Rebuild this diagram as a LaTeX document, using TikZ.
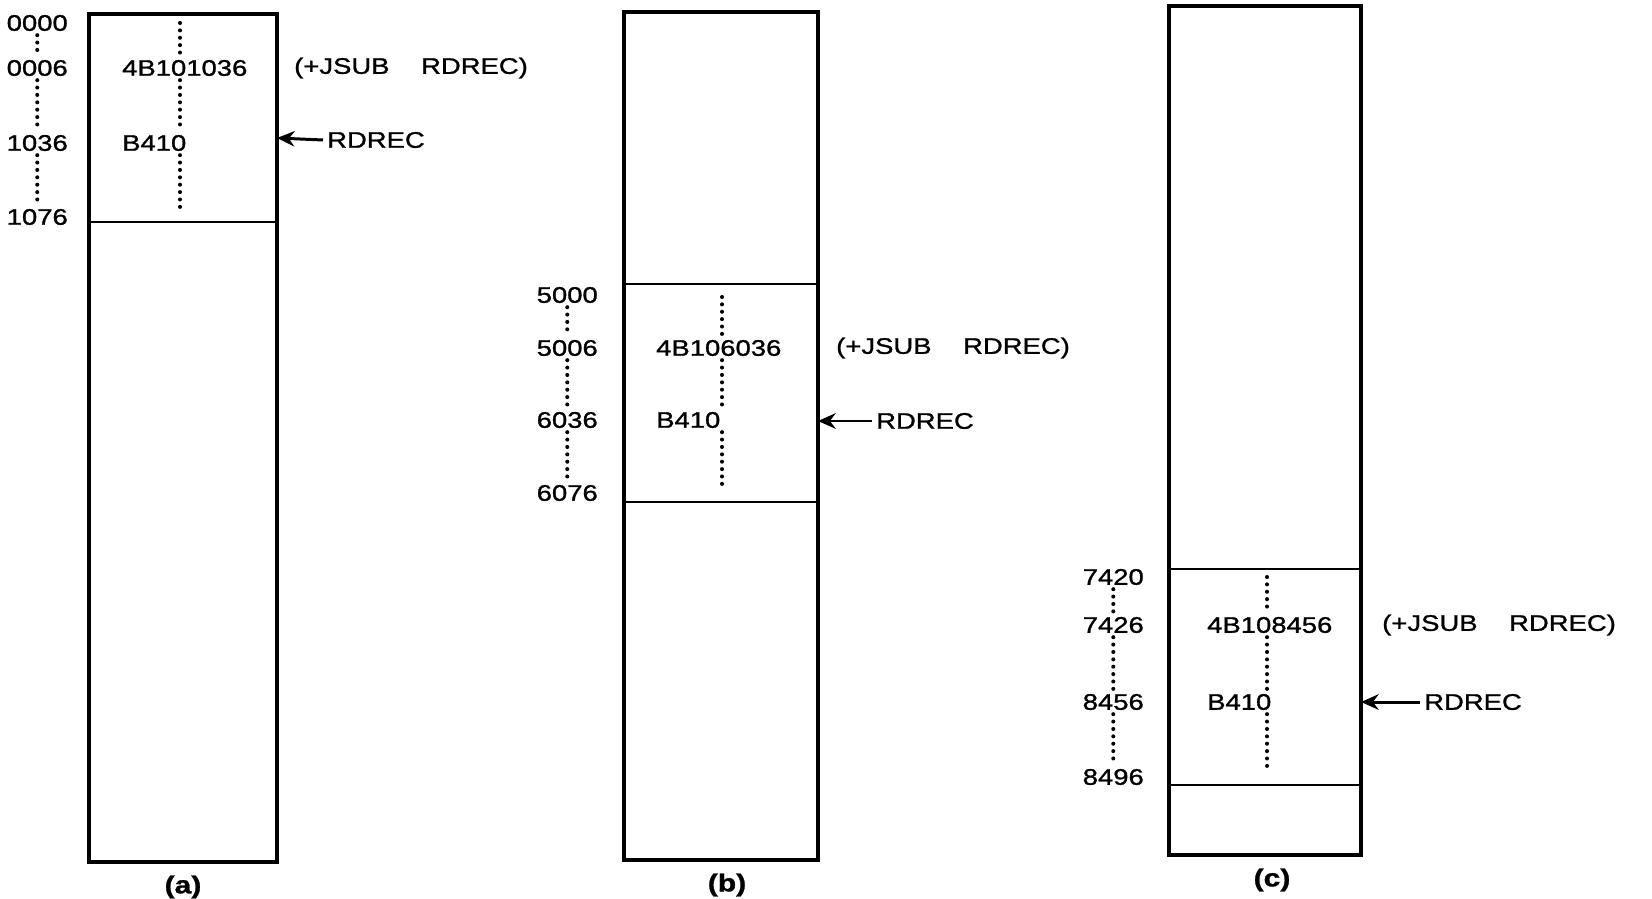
\documentclass[tikz,border=0pt]{standalone}
\usepackage{fontspec}
\setmainfont{Liberation Sans}[FakeStretch=1.22, FakeBold=1.2]
\usetikzlibrary{arrows.meta}

\tikzset{
  lbl/.style={font=\fontsize{6.4}{7.6}\selectfont, inner sep=1pt},
  figcap/.style={font=\fontsize{7}{8}\selectfont\bfseries, inner sep=1pt},
  membox/.style={line width=0.9pt},
  split/.style={line width=0.7pt},
  dotcol/.style={line width=1.15pt, line cap=round, dash pattern=on 0pt off 2.1pt},
  ptr/.style={-{Stealth[length=5pt,width=4.4pt]}, line width=0.85pt},
}

\begin{document}
\begin{tikzpicture}
\useasboundingbox (0,0) rectangle (16.52,-8.98);

% --- (a): loaded at 0000 ---
\begin{scope}[xshift=0.89cm]
  \draw[membox] (0,-0.14) rectangle (1.88,-8.62);
  \draw[split] (0,-2.22) -- (1.88,-2.22);

  % addresses
  \node[lbl, anchor=east] (a0) at (-0.17,-0.23) {0000};
  \node[lbl, anchor=east] (a1) at (-0.17,-0.68) {0006};
  \node[lbl, anchor=east] (a2) at (-0.17,-1.43) {1036};
  \node[lbl, anchor=east] (a3) at (-0.17,-2.17) {1076};
  \draw[dotcol] (a0.south) -- (a1.north);
  \draw[dotcol] (a1.south) -- (a2.north);
  \draw[dotcol] (a2.south) -- (a3.north);

  % contents
  \node[lbl, anchor=west] (acode) at (0.29,-0.68) {4B101036};
  \node[lbl, anchor=west] (aop) at (0.29,-1.43) {B410};
  \coordinate (atop) at (0.91,-0.23);
  \coordinate (abot) at (0.91,-2.08);
  \draw[dotcol] (atop) -- (acode.north -| atop);
  \draw[dotcol] (acode.south -| atop) -- (aop.north -| atop);
  \draw[dotcol] (aop.south -| atop) -- (abot);

  \node[lbl, anchor=west] (ajsub) at (2.01,-0.68) {(+JSUB\hspace{9pt}RDREC)};
  \node[lbl, anchor=west] (ardrec) at (2.34,-1.40) {RDREC};
  \coordinate (aend) at (1.88,-1.38);
  \draw[ptr] (ardrec.west) -- (aend);

  \node[figcap] (acap) at (0.94,-8.87) {(a)};
\end{scope}

% --- (b): loaded at 5000 ---
\begin{scope}[xshift=6.24cm]
  \draw[membox] (0,-0.12) rectangle (1.94,-8.60);
  \draw[split] (0,-2.84) -- (1.94,-2.84);
  \draw[split] (0,-5.02) -- (1.94,-5.02);

  % addresses
  \node[lbl, anchor=east] (b0) at (-0.22,-2.95) {5000};
  \node[lbl, anchor=east] (b1) at (-0.22,-3.48) {5006};
  \node[lbl, anchor=east] (b2) at (-0.22,-4.20) {6036};
  \node[lbl, anchor=east] (b3) at (-0.22,-4.93) {6076};
  \draw[dotcol] (b0.south) -- (b1.north);
  \draw[dotcol] (b1.south) -- (b2.north);
  \draw[dotcol] (b2.south) -- (b3.north);

  % contents
  \node[lbl, anchor=west] (bcode) at (0.28,-3.48) {4B106036};
  \node[lbl, anchor=west] (bop) at (0.28,-4.20) {B410};
  \coordinate (btop) at (0.98,-2.97);
  \coordinate (bbot) at (0.98,-4.88);
  \draw[dotcol] (btop) -- (bcode.north -| btop);
  \draw[dotcol] (bcode.south -| btop) -- (bop.north -| btop);
  \draw[dotcol] (bop.south -| btop) -- (bbot);

  \node[lbl, anchor=west] (bjsub) at (2.08,-3.48) {(+JSUB\hspace{9pt}RDREC)};
  \node[lbl, anchor=west] (brdrec) at (2.48,-4.21) {RDREC};
  \coordinate (bend) at (1.94,-4.21);
  \draw[ptr] (brdrec.west) -- (bend);

  \node[figcap] (bcap) at (1.03,-8.85) {(b)};
\end{scope}

% --- (c): loaded at 7420 ---
\begin{scope}[xshift=11.69cm]
  \draw[membox] (0,-0.06) rectangle (1.92,-8.55);
  \draw[split] (0,-5.69) -- (1.92,-5.69);
  \draw[split] (0,-7.85) -- (1.92,-7.85);

  % addresses
  \node[lbl, anchor=east] (c0) at (-0.21,-5.77) {7420};
  \node[lbl, anchor=east] (c1) at (-0.21,-6.25) {7426};
  \node[lbl, anchor=east] (c2) at (-0.21,-7.02) {8456};
  \node[lbl, anchor=east] (c3) at (-0.21,-7.77) {8496};
  \draw[dotcol] (c0.south) -- (c1.north);
  \draw[dotcol] (c1.south) -- (c2.north);
  \draw[dotcol] (c2.south) -- (c3.north);

  % contents
  \node[lbl, anchor=west] (ccode) at (0.34,-6.25) {4B108456};
  \node[lbl, anchor=west] (cop) at (0.34,-7.02) {B410};
  \coordinate (ctop) at (0.98,-5.77);
  \coordinate (cbot) at (0.98,-7.70);
  \draw[dotcol] (ctop) -- (ccode.north -| ctop);
  \draw[dotcol] (ccode.south -| ctop) -- (cop.north -| ctop);
  \draw[dotcol] (cop.south -| ctop) -- (cbot);

  \node[lbl, anchor=west] (cjsub) at (2.09,-6.25) {(+JSUB\hspace{9pt}RDREC)};
  \node[lbl, anchor=west] (crdrec) at (2.51,-7.02) {RDREC};
  \coordinate (cend) at (1.92,-7.02);
  \draw[ptr] (crdrec.west) -- (cend);

  \node[figcap] (ccap) at (1.03,-8.80) {(c)};
\end{scope}

\end{tikzpicture}
\end{document}
